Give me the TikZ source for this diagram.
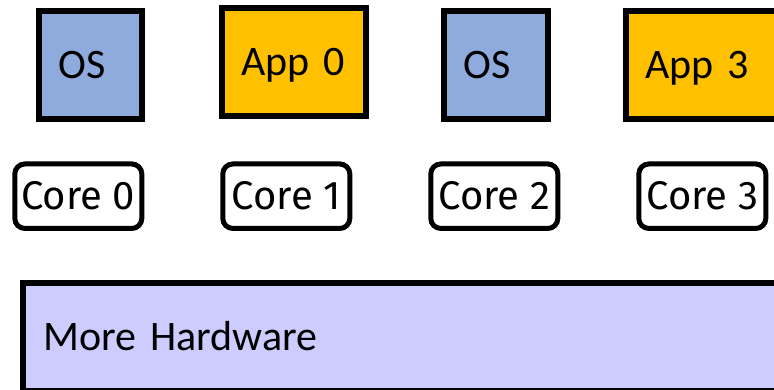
\documentclass[tikz,border=0pt]{standalone}
\usepackage{fontspec}
\setmainfont{Carlito}
\newfontfamily\corefont{Fira Sans}
\usepackage{xcolor}

\definecolor{osblue}{HTML}{8FAADC}
\definecolor{appgold}{HTML}{FFC000}
\definecolor{hwlilac}{HTML}{CCCCFF}

\tikzset{
  job/.style={draw, line width=5.7pt, minimum height=108pt, align=left,
    inner xsep=19.5pt, inner ysep=0pt, text height=27pt, text depth=0pt,
    font=\fontsize{42}{48}\selectfont},
  core/.style={draw, line width=5pt, rounded corners=10pt, minimum width=127pt,
    minimum height=64.5pt, inner sep=0pt, text height=27.6pt, text depth=0pt,
    font=\corefont\fontsize{40}{46}\selectfont}
}

\begin{document}
\begin{tikzpicture}[x=1pt,y=-1pt]
\useasboundingbox (0,0) rectangle (774,390);
\clip (0,0) rectangle (774,390);

%systemes
\node [job, fill=osblue, text width=64.5pt] (os0) at (90.5,65) {OS};
\node [job, fill=appgold, text width=105pt] (app0) at (294,62) {App 0};
\node [job, fill=osblue, text width=64.5pt] (os2) at (496,65) {OS};
\node [job, fill=appgold, text width=131pt, anchor=west] (app3) at (623.2,65) {App 3};

%coeurs
\foreach \i in {0,...,3}
   {\node [core] (core\i) at (78.3+208*\i,196.2) {Core \i};
   }

%materiel
\node [job, fill=hwlilac, minimum height=107.5pt, text width=760pt,
  inner xsep=20.3pt, anchor=west] (hw) at (20,336.75) {More Hardware};

\end{tikzpicture}
\end{document}
